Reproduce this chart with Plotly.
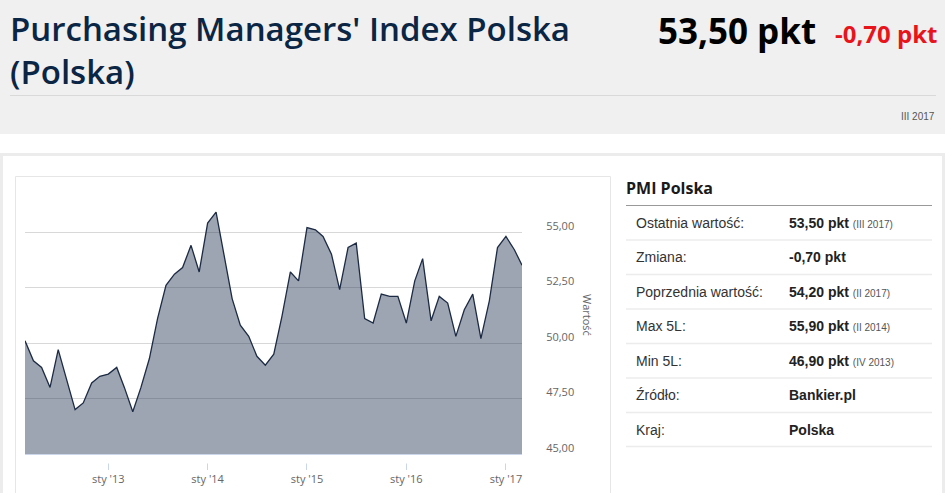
import plotly.graph_objects as go
import pandas as pd

# PMI Polska, miesięcznie III 2012 - III 2017
start_month = "2012-03-01"
pmi = [50.1, 49.2, 48.9, 48.0, 49.7, 48.3, 47.0, 47.3, 48.2, 48.5,
       48.6, 48.9, 48.0, 46.9, 48.0, 49.3, 51.1, 52.6, 53.1, 53.4, 54.4, 53.2,
       55.4, 55.9, 54.0, 52.0, 50.8, 50.3, 49.4, 49.0, 49.5, 51.2, 53.2, 52.8,
       55.2, 55.1, 54.8, 54.0, 52.4, 54.3, 54.5, 51.1, 50.9, 52.2, 52.1, 52.1,
       50.9, 52.8, 53.8, 51.0, 52.1, 51.8, 50.3, 51.5, 52.2, 50.2, 51.9, 54.3,
       54.8, 54.2, 53.5]
months = pd.date_range(start_month, periods=len(pmi), freq="MS")

x_tick_vals = ["2013-01-01", "2014-01-01", "2015-01-01", "2016-01-01", "2017-01-01"]
x_tick_text = ["sty '13", "sty '14", "sty '15", "sty '16", "sty '17"]

title_text = "Purchasing Managers' Index Polska<br>(Polska)"
last_value = "53,50 pkt"
change = "-0,70 pkt"
period = "III 2017"

table_title = "PMI Polska"
row_labels = ["Ostatnia wartość:", "Zmiana:", "Poprzednia wartość:", "Max 5L:",
              "Min 5L:", "Źródło:", "Kraj:"]
row_values = ["53,50 pkt", "-0,70 pkt", "54,20 pkt", "55,90 pkt", "46,90 pkt",
              "Bankier.pl", "Polska"]
row_periods = ["III 2017", "", "II 2017", "II 2014", "IV 2013", "", ""]

W, H = 945, 493
L, R, T, B = 25, 522, 186, 454


def px(x):
    return (x - L) / (R - L)


def py(y):
    return (B - y) / (B - T)


fig = go.Figure()
fig.add_trace(go.Scatter(
    x=months, y=pmi, mode="lines", fill="tozeroy",
    line=dict(color="#1c2a44", width=1.3),
    fillcolor="rgba(31,51,80,0.44)",
    hoverinfo="skip", showlegend=False))

shapes = [
    # szare tło nagłówka
    dict(type="rect", xref="paper", yref="paper", x0=px(-5), x1=px(W + 5),
         y0=py(-5), y1=py(134), fillcolor="#f0f0f0", line_width=0, layer="below"),
    dict(type="line", xref="paper", yref="paper", x0=px(10), x1=px(936),
         y0=py(95.5), y1=py(95.5), line=dict(color="#d9d9d9", width=1)),
    # ramka panelu
    dict(type="rect", xref="paper", yref="paper", x0=px(1.5), x1=px(943.5),
         y0=py(154.5), y1=py(H + 10), line=dict(color="#ececec", width=3), layer="below"),
    dict(type="rect", xref="paper", yref="paper", x0=px(15.5), x1=px(610.5),
         y0=py(176.5), y1=py(H + 10), line=dict(color="#e6e6e6", width=1), layer="below"),
    # maska nad znacznikami osi x
    dict(type="rect", xref="paper", yref="paper", x0=px(18), x1=px(540),
         y0=py(455), y1=py(463.5), fillcolor="white", line_width=0, layer="above"),
    # tabela
    dict(type="line", xref="paper", yref="paper", x0=px(626), x1=px(932),
         y0=py(205.5), y1=py(205.5), line=dict(color="#999999", width=1)),
]
row_lines = [240, 274.5, 309, 343.5, 378, 412.5, 446.5]
for yl in row_lines:
    shapes.append(dict(type="line", xref="paper", yref="paper", x0=px(626), x1=px(932),
                       y0=py(yl), y1=py(yl), line=dict(color="#ececec", width=1.5)))

ann = []


def text(x, y, s, size, color, family="Open Sans", anchor="left", angle=0, weight="normal"):
    ann.append(dict(x=px(x), y=py(y), xref="paper", yref="paper", text=s,
                    showarrow=False, xanchor=anchor, yanchor="middle", textangle=angle,
                    align="left", font=dict(size=size, color=color, family=family, weight=weight)))


text(8, 50, title_text, 33, "#0b2545", weight=600)
text(818, 30, "<b>" + last_value + "</b>", 35, "#000000", anchor="right")
text(939, 34, "<b>" + change + "</b>", 24, "#e8141c", anchor="right")
text(937, 116, period, 10, "#555555", family="Liberation Sans", anchor="right")
text(588, 315, "Wartość", 11, "#666666", angle=90, anchor="center")

text(624, 188, "<b>" + table_title + "</b>", 16, "#1a1a1a")
row_y = [222.5, 257, 291.5, 326, 360.5, 395, 429.5]
for lab, val, per, yy in zip(row_labels, row_values, row_periods, row_y):
    text(634, yy, lab, 14, "#333333", family="Liberation Sans")
    s = "<b>" + val + "</b>"
    if per:
        s += " <span style='font-size:10px;color:#555555'>(" + per + ")</span>"
    text(787, yy, s, 14, "#222222", family="Liberation Sans")

fig.update_layout(
    width=W, height=H, autosize=False,
    margin=dict(l=L, r=W - R, t=T, b=H - B, pad=0),
    paper_bgcolor="white", plot_bgcolor="white",
    separators=", ",
    font=dict(family="Open Sans", size=11, color="#666666"),
    shapes=shapes, annotations=ann,
    xaxis=dict(range=[months[0], months[-1]], tickvals=x_tick_vals, ticktext=x_tick_text,
               ticks="outside", ticklen=15, tickcolor="#ccd6eb", showgrid=False,
               showline=True, linecolor="#ccd6eb", linewidth=1, zeroline=False,
               ticklabelstandoff=0, automargin=False,
               tickfont=dict(size=11, color="#666666")),
    yaxis=dict(side="right", range=[45, 45 + (B - T) / 22.2], tick0=45, dtick=2.5,
               tickformat=".2f", showgrid=True, gridcolor="#d8d8d8", gridwidth=1,
               zeroline=False, ticks="outside", ticklen=21, tickcolor="rgba(0,0,0,0)",
               ticklabelshift=-6, automargin=False,
               tickfont=dict(size=11, color="#666666")),
)

# wykres przypięty do lewego górnego rogu okna
pin = ("document.body.style.margin='0';"
       "var d=document.getElementById('{plot_id}');"
       "d.style.position='fixed';d.style.left='0';d.style.top='0';")
fig.write_html("out.html", config={"displayModeBar": False}, post_script=pin)
